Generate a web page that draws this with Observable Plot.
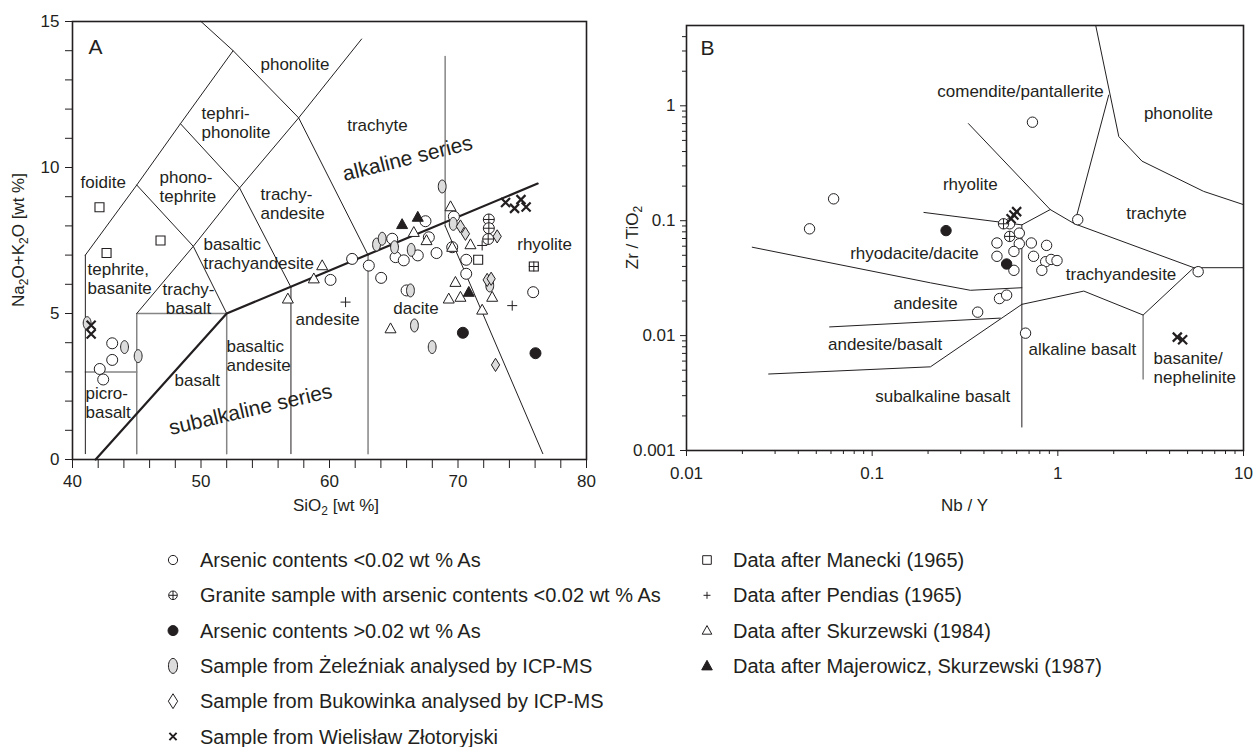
<!DOCTYPE html>
<html><head><meta charset="utf-8">
<script src="https://cdn.jsdelivr.net/npm/d3@7"></script>
<script src="https://cdn.jsdelivr.net/npm/@observablehq/plot@0.6"></script>
<style>
body{margin:0;background:#fff;}
#root{position:relative;width:1253px;height:747px;overflow:hidden;background:#fff;}
#root svg{position:absolute;}
</style></head><body><div id="root"></div>
<script>
// ---------------- DATA: panel A (TAS diagram) ----------------
const tasOpenCircle = [[43.09,3.98],[43.09,3.41],[42.12,3.10],[42.39,2.74],[60.08,6.15],[61.76,6.87],[63.06,6.64],[64.02,6.22],[64.88,7.56],[65.14,6.93],[65.78,6.82],[66.87,6.99],[68.33,7.07],[67.73,7.61],[67.47,8.16],[66.0,5.79],[69.55,7.27],[70.64,6.84],[70.64,6.36],[69.68,8.32],[75.85,5.73]];
const tasGraniteCircle = [[72.4,8.22],[72.4,7.92],[72.35,7.55]];
const tasFilledCircle = [[70.38,4.34],[76.03,3.64]];
const tasZelezniak = [[41.14,4.67],[44.05,3.85],[45.11,3.54],[63.66,7.36],[64.1,7.56],[65.06,7.27],[66.36,7.18],[66.3,5.79],[66.61,4.59],[67.99,3.85],[68.77,9.35],[69.63,8.07],[72.47,5.96]];
const tasBukowinka = [[70.19,7.98],[70.58,7.73],[73.05,7.64],[72.27,6.15],[72.58,6.19],[72.92,3.24]];
const tasZlotoryjski = [[41.45,4.6],[41.45,4.3],[73.7,8.8],[74.4,8.6],[74.9,8.9],[75.3,8.65]];
const tasManecki = [[42.1,8.64],[42.65,7.07],[46.85,7.5],[71.57,6.84],[75.9,6.61]];
const tasPendias = [[61.25,5.39],[71.88,7.33],[74.22,5.27],[75.9,6.61]];
const tasSkurzewski = [[56.76,5.5],[58.78,6.19],[59.43,6.64],[66.56,7.78],[67.55,7.5],[69.42,8.66],[69.55,7.27],[70.97,7.36],[64.75,4.48],[69.8,6.07],[69.28,5.5],[70.19,5.56],[71.88,5.12],[72.66,5.56]];
const tasMajerowicz = [[65.65,8.05],[66.87,8.3],[70.84,5.73]];

// field boundaries (SiO2, Na2O+K2O)
const tasThinLines = [
  [[50,15],[52.5,14],[57.6,11.7],[63,7]],
  [[41,7],[45,9.4],[48.4,11.5],[52.5,14]],
  [[45,5],[49.4,7.3],[53,9.3],[57.6,11.7],[62.5,14.4]],
  [[45,9.4],[49.4,7.3],[52,5]],
  [[48.4,11.5],[53,9.3],[57,5.9]],
  [[41,0.2],[41,7]],
  [[57,0.2],[57,5.9]],
  [[69,8],[76.6,0.2]]
];
const tasGrayLines = [
  [[41,3],[45,3]],
  [[45,0.2],[45,5],[52,5]],
  [[52,0.2],[52,5]],
  [[63,0.2],[63,7]],
  [[69,8],[69,13.8]]
];
const tasSeriesLine = [[41.8,0],[52,5],[76.2,9.45]];

const tasLabels = [[54.63,13.56,"phonolite"],[50.04,11.56,"tephri-\nphonolite"],[40.62,9.52,"foidite"],[46.77,9.35,"phono-\ntephrite"],[54.63,8.78,"trachy-\nandesite"],[61.38,11.47,"trachyte"],[41.17,6.2,"tephrite,\nbasanite"],[50.19,7.07,"basaltic\ntrachyandesite"],[57.35,4.83,"andesite"],[51.98,3.56,"basaltic\nandesite"],[47.94,2.71,"basalt"],[41.01,1.95,"picro-\nbasalt"],[64.96,5.18,"dacite"],[74.61,7.4,"rhyolite"]];
const tasLabelsCentered = [[49.03,5.53,"trachy-\nbasalt"]];
const tasSeriesLabels = [[66.07,10.31,"alkaline series"]];
const tasSubSeriesLabels = [[53.85,1.71,"subalkaline series"]];

// ---------------- DATA: panel B (Zr/TiO2 vs Nb/Y) ----------------
const wfOpenCircle = [[0.046,0.085],[0.062,0.155],[0.73,0.72],[1.28,0.102],[0.55,0.094],[0.62,0.078],[0.47,0.064],[0.62,0.063],[0.72,0.064],[0.87,0.061],[0.47,0.049],[0.58,0.054],[0.74,0.049],[0.86,0.044],[0.92,0.046],[0.99,0.045],[0.82,0.037],[0.58,0.037],[5.7,0.036],[0.485,0.021],[0.53,0.0225],[0.37,0.016],[0.67,0.0105]];
const wfGraniteCircle = [[0.51,0.094],[0.55,0.073]];
const wfFilledCircle = [[0.25,0.082],[0.53,0.042]];
const wfZlotoryjski = [[0.56,0.104],[0.58,0.112],[0.6,0.12],[4.4,0.0097],[4.7,0.0092]];

const wfThinLines = [
  [[1.6,5],[2.13,0.54],[2.84,0.33],[6.1,0.18],[10,0.138]],
  [[1.88,1.24],[1.23,0.094]],
  [[0.33,0.70],[0.91,0.125],[1.23,0.094],[5.4,0.039],[10,0.039]],
  [[0.19,0.118],[0.64,0.092],[0.91,0.125]],
  [[0.0226,0.0588],[0.206,0.0288],[0.338,0.0248],[0.64,0.0261]],
  [[0.64,0.0016],[0.64,0.092]],
  [[0.64,0.0187],[1.38,0.0244],[2.88,0.0151],[5.4,0.039]],
  [[0.059,0.0119],[0.49,0.0142]],
  [[0.0277,0.00463],[0.206,0.00535],[0.64,0.0187]]
];
const wfGrayLines = [[[2.88,0.0042],[2.88,0.0151]]];
const wfLabels = [[0.629,1.325,"comendite/pantallerite"],[4.46,0.854,"phonolite"],[0.338,0.207,"rhyolite"],[3.4,0.116,"trachyte"],[0.169,0.0522,"rhyodacite/dacite"],[2.19,0.0343,"trachyandesite"],[0.194,0.0192,"andesite"],[0.1175,0.0083,"andesite/basalt"],[0.24,0.00294,"subalkaline basalt"],[1.357,0.0075,"alkaline basalt"]];
const wfLabelsStart = [[3.28,0.00528,"basanite/\nnephelinite"]];

// axis ticks
const tasXTicks = d3.range(40, 81, 2);
const tasYTicks = d3.range(0, 16, 1);
const wfXMajor = [0.01, 0.1, 1, 10];
const wfYMajor = [0.001, 0.01, 0.1, 1];
const wfXMinor = [0.01,0.1,1].flatMap(b => d3.range(2,10).map(m => b*m));
const wfYMinor = [0.001,0.01,0.1,1].flatMap(b => d3.range(2,10).map(m => b*m)).filter(v => v < 4.9);

// legend
const legendLeft = ["Arsenic contents <0.02 wt % As","Granite sample with arsenic contents <0.02 wt % As","Arsenic contents >0.02 wt % As","Sample from Żeleźniak analysed by ICP-MS","Sample from Bukowinka analysed by ICP-MS","Sample from Wielisław Złotoryjski"];
const legendRight = ["Data after Manecki (1965)","Data after Pendias (1965)","Data after Skurzewski (1984)","Data after Majerowicz, Skurzewski (1987)"];

// ---------------- STYLE / SYMBOLS ----------------
const INK = "#231f20", GRAY = "#858585", LIGHT = "#dcdcdc";
const FONT = '"Liberation Sans", Arial, Helvetica, sans-serif';
const rad = s => Math.sqrt(s / Math.PI);
const symCircle = {draw(c,s){const r=rad(s); c.moveTo(r,0); c.arc(0,0,r,0,2*Math.PI); c.closePath();}};
const symCirclePlus = {draw(c,s){const r=rad(s); c.moveTo(r,0); c.arc(0,0,r,0,2*Math.PI); c.closePath(); c.moveTo(-r,0); c.lineTo(r,0); c.moveTo(0,-r); c.lineTo(0,r);}};
const symEllipse = {draw(c,s){const r=rad(s), rx=0.7*r, ry=1.15*r, k=0.5523; c.moveTo(0,-ry); c.bezierCurveTo(k*rx,-ry,rx,-k*ry,rx,0); c.bezierCurveTo(rx,k*ry,k*rx,ry,0,ry); c.bezierCurveTo(-k*rx,ry,-rx,k*ry,-rx,0); c.bezierCurveTo(-rx,-k*ry,-k*rx,-ry,0,-ry); c.closePath();}};
const symDiamond = {draw(c,s){const r=rad(s); c.moveTo(0,-1.2*r); c.lineTo(0.75*r,0); c.lineTo(0,1.2*r); c.lineTo(-0.75*r,0); c.closePath();}};
const symTimes = {draw(c,s){const r=rad(s); c.moveTo(-r,-r); c.lineTo(r,r); c.moveTo(-r,r); c.lineTo(r,-r);}};
const symPlus = {draw(c,s){const r=rad(s); c.moveTo(-r,0); c.lineTo(r,0); c.moveTo(0,-r); c.lineTo(0,r);}};
const symSquare = {draw(c,s){const r=rad(s); c.moveTo(-r,-r); c.lineTo(r,-r); c.lineTo(r,r); c.lineTo(-r,r); c.closePath();}};
const symTriangle = {draw(c,s){const r=rad(s); c.moveTo(0,-1.05*r); c.lineTo(r,0.75*r); c.lineTo(-r,0.75*r); c.closePath();}};

function dots(data, symbol, r, fill, stroke, strokeWidth){
  return Plot.dot(data, {x: d=>d[0], y: d=>d[1], symbol, r, fill, stroke, strokeWidth});
}
function polylines(list, stroke, strokeWidth){
  return list.map(pts => Plot.line(pts, {x: d=>d[0], y: d=>d[1], stroke, strokeWidth, strokeLinejoin:"miter"}));
}
function subText(textSel, parts){
  parts.forEach(([t, sub], i) => {
    const ts = textSel.append("tspan").text(t);
    if (sub) ts.attr("dy", 4).attr("font-size", 12);
    else if (i > 0 && parts[i-1][1]) ts.attr("dy", -4);
  });
}

const root = document.getElementById("root");

// ---------------- PANEL A ----------------
const svgA = Plot.plot({
  width: 620, height: 500,
  marginLeft: 72, marginRight: 34, marginTop: 21, marginBottom: 41,
  x: {domain: [40, 80]}, y: {domain: [0, 15]},
  style: {fontFamily: FONT, fontSize: "17px", color: INK, background: "transparent", overflow: "visible"},
  marks: [
    ...polylines(tasGrayLines, GRAY, 1.5),
    ...polylines(tasThinLines, INK, 1),
    Plot.line(tasSeriesLine, {x: d=>d[0], y: d=>d[1], stroke: INK, strokeWidth: 2.2}),
    Plot.text(tasLabels, {x: d=>d[0], y: d=>d[1], text: d=>d[2], textAnchor: "start", fontSize: 17, lineHeight: 1.12, fill: INK}),
    Plot.text(tasLabelsCentered, {x: d=>d[0], y: d=>d[1], text: d=>d[2], textAnchor: "middle", fontSize: 17, lineHeight: 1.12, fill: INK}),
    Plot.text(tasSeriesLabels, {x: d=>d[0], y: d=>d[1], text: d=>d[2], rotate: -14, fontSize: 21, fill: INK}),
    Plot.text(tasSubSeriesLabels, {x: d=>d[0], y: d=>d[1], text: d=>d[2], rotate: -13, fontSize: 21, fill: INK}),
    dots(tasOpenCircle, symCircle, 5.5, "white", INK, 1),
    dots(tasZelezniak, symEllipse, 5.6, LIGHT, INK, 1),
    dots(tasBukowinka, symDiamond, 5.5, LIGHT, INK, 1),
    dots(tasSkurzewski, symTriangle, 5.5, "white", INK, 1),
    dots(tasManecki, symSquare, 4.5, "white", INK, 1.1),
    dots(tasGraniteCircle, symCirclePlus, 5.5, "white", INK, 1),
    dots(tasPendias, symPlus, 5, "none", INK, 1),
    dots(tasFilledCircle, symCircle, 5.5, INK, INK, 1),
    dots(tasMajerowicz, symTriangle, 5.5, INK, INK, 1),
    dots(tasZlotoryjski, symTimes, 4.5, "none", INK, 2.2),
    Plot.axisX(tasXTicks, {tickSize: 9, tickPadding: 6, tickFormat: d => d % 10 === 0 ? String(d) : "", label: null, stroke: INK, strokeWidth: 1}),
    Plot.axisY(tasYTicks, {tickSize: 7, tickPadding: 6, tickFormat: d => d % 5 === 0 ? String(d) : "", label: null, stroke: INK, strokeWidth: 1}),
    Plot.frame({stroke: INK, strokeWidth: 1.6}),
    Plot.text(["A"], {frameAnchor: "top-left", text: d=>d, dx: 16, dy: 18, lineAnchor: "top", textAnchor: "start", fontSize: 21, fill: INK})
  ]
});
svgA.style.left = "0px"; svgA.style.top = "0px";
root.appendChild(svgA);
{
  const s = d3.select(svgA);
  const yt = s.append("text").attr("transform","translate(24,240) rotate(-90)").attr("text-anchor","middle").attr("fill",INK).attr("font-size",17).attr("font-family",FONT);
  subText(yt, [["Na",false],["2",true],["O+K",false],["2",true],["O [wt %]",false]]);
  const xt = s.append("text").attr("x",336).attr("y",511).attr("text-anchor","middle").attr("fill",INK).attr("font-size",17).attr("font-family",FONT);
  subText(xt, [["SiO",false],["2",true],[" [wt %]",false]]);
}

// ---------------- PANEL B ----------------
const svgB = Plot.plot({
  width: 633, height: 500,
  marginLeft: 66, marginRight: 10, marginTop: 25, marginBottom: 50,
  x: {type: "log", domain: [0.01, 10]}, y: {type: "log", domain: [0.001, 5]},
  style: {fontFamily: FONT, fontSize: "17px", color: INK, background: "transparent", overflow: "visible"},
  marks: [
    ...polylines(wfGrayLines, GRAY, 1.5),
    ...polylines(wfThinLines, INK, 1),
    Plot.text(wfLabels, {x: d=>d[0], y: d=>d[1], text: d=>d[2], textAnchor: "middle", fontSize: 17, fill: INK}),
    Plot.text(wfLabelsStart, {x: d=>d[0], y: d=>d[1], text: d=>d[2], textAnchor: "start", fontSize: 17, lineHeight: 1.12, fill: INK}),
    dots(wfOpenCircle, symCircle, 5.2, "white", INK, 1),
    dots(wfGraniteCircle, symCirclePlus, 5.2, "white", INK, 1),
    dots(wfFilledCircle, symCircle, 5.2, INK, INK, 1),
    dots(wfZlotoryjski, symTimes, 4.5, "none", INK, 2.2),
    Plot.axisX(wfXMinor, {tickSize: 4, tickFormat: () => "", label: null, stroke: INK}),
    Plot.axisX(wfXMajor, {tickSize: 6, tickPadding: 10, tickFormat: d => String(d), label: null, stroke: INK}),
    Plot.axisY(wfYMinor, {tickSize: 4, tickFormat: () => "", label: null, stroke: INK}),
    Plot.axisY(wfYMajor, {tickSize: 6, tickPadding: 5, tickFormat: d => String(d), label: null, stroke: INK}),
    Plot.frame({stroke: INK, strokeWidth: 1.6}),
    Plot.text(["B"], {frameAnchor: "top-left", text: d=>d, dx: 14, dy: 15, lineAnchor: "top", textAnchor: "start", fontSize: 21, fill: INK})
  ]
});
svgB.style.left = "620px"; svgB.style.top = "0px";
root.appendChild(svgB);
{
  const s = d3.select(svgB);
  const yt = s.append("text").attr("transform","translate(18,237.5) rotate(-90)").attr("text-anchor","middle").attr("fill",INK).attr("font-size",17).attr("font-family",FONT);
  subText(yt, [["Zr / TiO",false],["2",true]]);
  s.append("text").attr("x",344.5).attr("y",511).attr("text-anchor","middle").attr("fill",INK).attr("font-size",17).attr("font-family",FONT).text("Nb / Y");
}

// ---------------- LEGEND ----------------
{
  const lg = d3.select(root).append("svg").attr("width",1253).attr("height",217).style("left","0px").style("top","530px");
  const rowY = i => 30 + i * 35.3;
  const leftSyms = [
    [symCircle, 4.6, "white", 1], [symCirclePlus, 4.3, "white", 1], [symCircle, 5, INK, 1],
    [symEllipse, 6.5, LIGHT, 1], [symDiamond, 6.2, "white", 1], [symTimes, 3.6, "none", 2]
  ];
  const rightSyms = [
    [symSquare, 4.3, "white", 1], [symPlus, 3.5, "none", 1], [symTriangle, 4.8, "white", 1], [symTriangle, 5.3, INK, 1]
  ];
  function row(x, tx, i, sym, label){
    const [s, r, fill, sw] = sym;
    lg.append("path").attr("d", d3.symbol(s, r*r*Math.PI)()).attr("transform",`translate(${x},${rowY(i)})`)
      .attr("fill", fill).attr("stroke", INK).attr("stroke-width", sw);
    lg.append("text").attr("x", tx).attr("y", rowY(i)).attr("dy","0.35em").attr("fill",INK)
      .attr("font-size",20).attr("font-family",FONT).text(label);
  }
  legendLeft.forEach((t,i) => row(173, 200, i, leftSyms[i], t));
  legendRight.forEach((t,i) => row(707, 733, i, rightSyms[i], t));
}
</script></body></html>
